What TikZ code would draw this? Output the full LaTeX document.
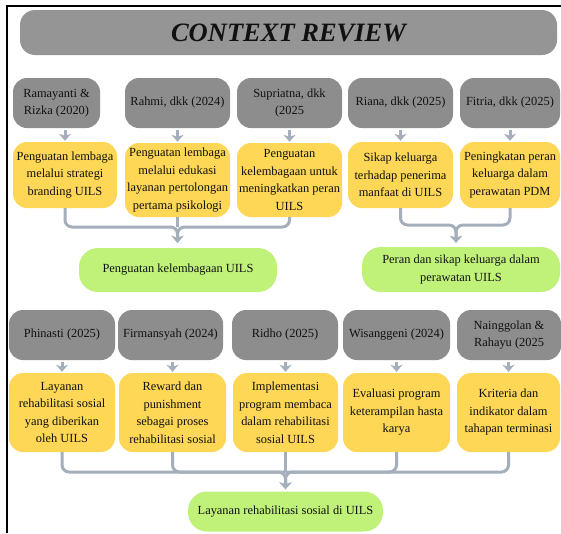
\documentclass[tikz,border=0pt]{standalone}
\usepackage{fontspec}
\setmainfont{Liberation Serif}
\usetikzlibrary{arrows.meta}
\definecolor{titlegray}{HTML}{959595}
\definecolor{boxgray}{HTML}{8D8D8D}
\definecolor{boxyellow}{HTML}{FDD755}
\definecolor{boxgreen}{HTML}{C0F27A}
\definecolor{linkc}{HTML}{A5AFBB}
\definecolor{txt}{HTML}{111111}
\begin{document}
\begin{tikzpicture}[x=1pt,y=-1pt,
  base/.style={rounded corners=14pt, inner sep=1pt, align=center, text=txt,
    font=\fontsize{12.4}{17.5}\selectfont},
  refbox/.style={base, fill=boxgray, minimum height=50pt},
  findbox/.style={base, fill=boxyellow},
  resbox/.style={base, fill=boxgreen, rounded corners=19pt},
  arr/.style={draw=linkc, line width=3pt, -{Stealth[length=7pt,width=12pt,inset=2pt]}},
  link/.style={draw=linkc, line width=3pt, rounded corners=7pt}]
\useasboundingbox (0,0) rectangle (561,533);
\fill[white] (0,0) rectangle (561,533);
% frame
\draw[line width=2pt] (7,533) -- (7,6) -- (561,6);
% title
\node[base, fill=titlegray, minimum width=537pt, minimum height=45pt, rounded corners=15pt,
  font=\fontsize{26.5}{30}\bfseries\itshape\selectfont] (t) at (288.5,32.5) {CONTEXT REVIEW};
% row 1 references
\node[refbox, minimum width=87pt]  (g1) at (56.5,103)  {Ramayanti \&\\Rizka (2020)};
\node[refbox, minimum width=105pt] (g2) at (177.5,103) {Rahmi, dkk (2024)};
\node[refbox, minimum width=105pt] (g3) at (289.5,103) {Supriatna, dkk\\(2025};
\node[refbox, minimum width=105pt] (g4) at (400.5,103) {Riana, dkk (2025)};
\node[refbox, minimum width=100pt] (g5) at (510,103)   {Fitria, dkk (2025)};
% row 1 findings
\node[findbox, minimum width=104pt, minimum height=66pt] (y1) at (65,175)    {Penguatan lembaga\\melalui strategi\\branding UILS};
\node[findbox, minimum width=105pt, minimum height=74pt] (y2) at (177.5,180) {Penguatan lembaga\\melalui edukasi\\layanan pertolongan\\pertama psikologi};
\node[findbox, minimum width=105pt, minimum height=74pt] (y3) at (289.5,180) {Penguatan\\kelembagaan untuk\\meningkatkan peran\\UILS};
\node[findbox, minimum width=105pt, minimum height=66pt] (y4) at (400.5,175) {Sikap keluarga\\terhadap penerima\\manfaat di UILS};
\node[findbox, minimum width=100pt, minimum height=66pt] (y5) at (510,175)   {Peningkatan peran\\keluarga dalam\\perawatan PDM};
% row 1 results
\node[resbox, minimum width=198pt, minimum height=44pt] (r1) at (178,270)   {Penguatan kelembagaan UILS};
\node[resbox, minimum width=198pt, minimum height=45pt] (r2) at (461,269.5) {Peran dan sikap keluarga dalam\\perawatan UILS};
% row 2 references
\node[refbox, minimum width=106pt] (h1) at (62,335)    {Phinasti (2025)};
\node[refbox, minimum width=105pt] (h2) at (170.5,335) {Firmansyah (2024)};
\node[refbox, minimum width=106pt] (h3) at (285,335)   {Ridho (2025)};
\node[refbox, minimum width=107pt] (h4) at (396.5,335) {Wisanggeni (2024)};
\node[refbox, minimum width=104pt] (h5) at (509,335)   {Nainggolan \&\\Rahayu (2025};
% row 2 findings
\node[findbox, minimum width=106pt, minimum height=79pt] (z1) at (62,412.5)    {Layanan\\rehabilitasi sosial\\yang diberikan\\oleh UILS};
\node[findbox, minimum width=107pt, minimum height=79pt] (z2) at (172.5,412.5) {Reward dan\\punishment\\sebagai proses\\rehabilitasi sosial};
\node[findbox, minimum width=105pt, minimum height=79pt] (z3) at (285.5,412.5) {Implementasi\\program membaca\\dalam rehabilitasi\\sosial UILS};
\node[findbox, minimum width=107pt, minimum height=79pt] (z4) at (396.5,412.5) {Evaluasi program\\keterampilan hasta\\karya};
\node[findbox, minimum width=103pt, minimum height=79pt] (z5) at (508.5,412.5) {Kriteria dan\\indikator dalam\\tahapan terminasi};
% row 2 result
\node[resbox, minimum width=195pt, minimum height=40pt] (r3) at (285.5,511.5) {Layanan rehabilitasi sosial di UILS};
% short arrows
\foreach \a/\b in {g1/y1,g2/y2,g3/y3,g4/y4,g5/y5,h1/z1,h2/z2,h3/z3,h4/z4,h5/z5}
  \draw[arr] ([yshift=-2pt]\b.north |- \a.south) -- ([yshift=1pt]\b.north);
% brackets
\coordinate (j1) at (177.5,227);
\coordinate (j2) at (456,225);
\coordinate (j3) at (285.5,472);
\draw[link] (y2.south) -- (j1);
\draw[link, -{Stealth[length=7pt,width=12pt,inset=2pt]}] (y1.south) |- (j1) -- ([yshift=5pt]j1 |- r1.north);
\draw[link, -{Stealth[length=7pt,width=12pt,inset=2pt]}] (y3.south) |- (j1) -- ([yshift=5pt]j1 |- r1.north);
\draw[link, -{Stealth[length=7pt,width=12pt,inset=2pt]}] (y4.south) |- (j2) -- ([yshift=4pt]j2 |- r2.north);
\draw[link, -{Stealth[length=7pt,width=12pt,inset=2pt]}] (y5.south) |- (j2) -- ([yshift=4pt]j2 |- r2.north);
\draw[link] (z2.south) |- (j3);
\draw[link] (z4.south) |- (j3);
\draw[link] (z3.south) -- (j3);
\draw[link, -{Stealth[length=7pt,width=12pt,inset=2pt]}] (z1.south) |- (j3) -- ([yshift=2pt]r3.north);
\draw[link, -{Stealth[length=7pt,width=12pt,inset=2pt]}] (z5.south) |- (j3) -- ([yshift=2pt]r3.north);
\end{tikzpicture}
\end{document}
